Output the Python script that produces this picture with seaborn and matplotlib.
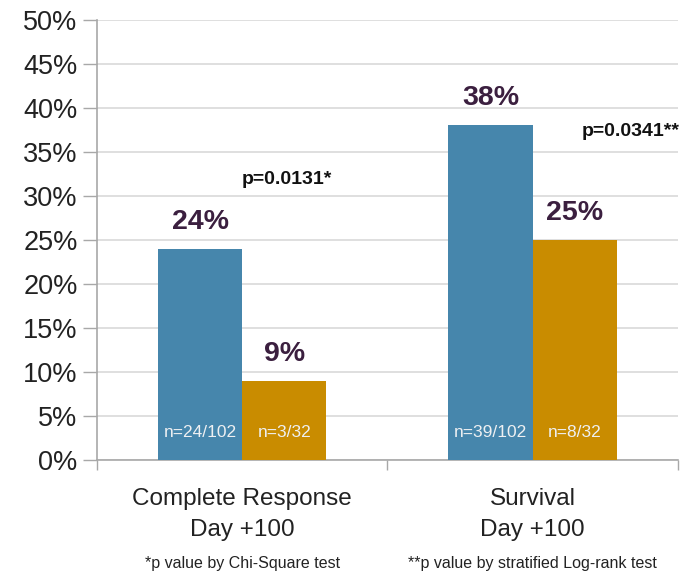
import pandas as pd
import seaborn as sns
import matplotlib.pyplot as plt
import matplotlib.transforms as mtransforms
from matplotlib.ticker import FixedLocator

# 데이터
categories = ['Complete Response\nDay +100', 'Survival\nDay +100']
arms = ['arm A', 'arm B']
arm_a_pct = [24, 38]
arm_b_pct = [9, 25]
arm_a_n = ['n=24/102', 'n=39/102']
arm_b_n = ['n=3/32', 'n=8/32']
p_values = ['p=0.0131*', 'p=0.0341**']
p_y = [31.9, 37.3]          # p값 텍스트 높이 (%)
p_x = [0.0, 1.17]           # p값 텍스트 시작 위치 (category index)
footnotes = ['*p value by Chi-Square test', '**p value by stratified Log-rank test']
y_ticks = list(range(0, 51, 5))

df = pd.DataFrame({
    'category': categories * 2,
    'arm': [arms[0]] * 2 + [arms[1]] * 2,
    'pct': arm_a_pct + arm_b_pct,
})

sns.set_style('white')
plt.rcParams['font.family'] = ['Liberation Sans', 'DejaVu Sans']

fig = plt.figure(figsize=(6.88, 5.8), dpi=100)
ax = fig.add_axes([0.141, 0.207, 0.844, 0.759])

sns.barplot(data=df, x='category', y='pct', hue='arm', hue_order=arms,
            palette=['#4686AC', '#C98C00'], width=0.58, gap=0,
            saturation=1, legend=False, ax=ax, zorder=3,
            linewidth=0, edgecolor='none')

ax.set_ylim(0, 50)
ax.set_xlim(-0.5, 1.5)
ax.set_yticks(y_ticks)
ax.set_yticklabels([f'{t}%' for t in y_ticks], fontsize=19.5, color='#222222')
ax.yaxis.grid(True, color='#dcdcdc', linewidth=1.3, zorder=0)
ax.set_axisbelow(True)
ax.tick_params(axis='y', length=10, width=1, color='#a8a8a8', pad=4, left=True)

# x축 : 라벨은 가운데, 눈금은 카테고리 경계
ax.set_xticks([0, 1])
ax.set_xticklabels(categories, fontsize=17.5, color='#222222', linespacing=1.55)
ax.tick_params(axis='x', which='major', length=0, pad=20)
ax.xaxis.set_minor_locator(FixedLocator([-0.5, 0.5, 1.5]))
ax.tick_params(axis='x', which='minor', length=7, width=1, color='#a8a8a8', bottom=True)
ax.set_xlabel('')
ax.set_ylabel('')

for s in ['top', 'right']:
    ax.spines[s].set_visible(False)
for s in ['left', 'bottom']:
    ax.spines[s].set_color('#a8a8a8')
    ax.spines[s].set_linewidth(1.2)

# 막대 라벨
for cont, n_labels in zip(ax.containers, [arm_a_n, arm_b_n]):
    for bar, nl in zip(cont, n_labels):
        cx = bar.get_x() + bar.get_width() / 2
        h = bar.get_height()
        ax.text(cx, h + 1.6, f'{h:.0f}%', ha='center', va='bottom',
                fontsize=20.5, fontweight='bold', color='#3b1f3f', zorder=4)
        ax.text(cx, 3.1, nl, ha='center', va='center', fontsize=12.5,
                color='#eef0f2', zorder=4)

for px, py, pt in zip(p_x, p_y, p_values):
    ax.text(px, py, pt, ha='left', va='center', fontsize=14,
            fontweight='bold', color='#111111', clip_on=False)

trans = mtransforms.blended_transform_factory(ax.transData, fig.transFigure)
for i, fn in enumerate(footnotes):
    ax.text(i, 0.029, fn, transform=trans, ha='center', va='center',
            fontsize=11.5, color='#222222')

fig.savefig('out.png', dpi=100)
